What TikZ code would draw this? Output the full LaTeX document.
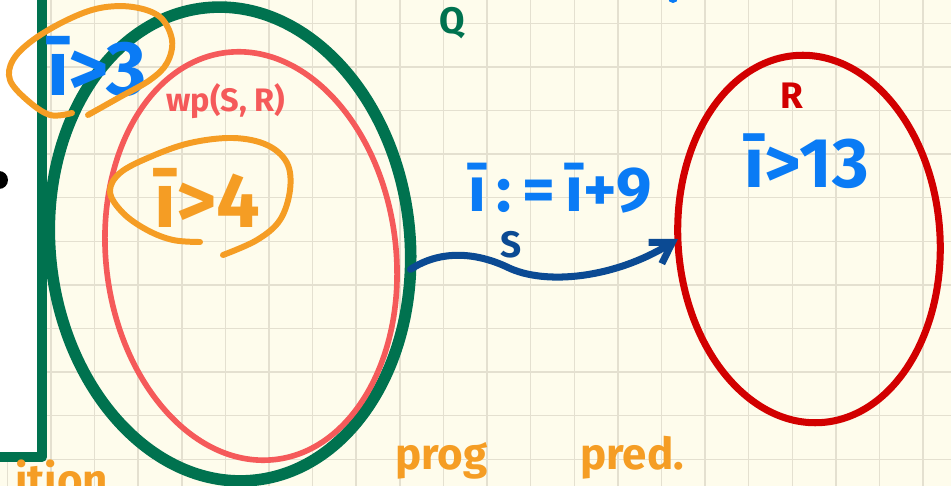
\documentclass[tikz,border=0pt]{standalone}
\usepackage{fontspec}
\setmainfont{Fira Sans}
\usetikzlibrary{shapes.geometric, arrows.meta}
\definecolor{paper}{HTML}{FEFCEC}
\definecolor{gridline}{HTML}{E4E0D0}
\definecolor{setgreen}{HTML}{00724F}
\definecolor{wpred}{HTML}{F55A5A}
\definecolor{postred}{HTML}{D20000}
\definecolor{inkblue}{HTML}{0A7BF5}
\definecolor{arrowblue}{HTML}{0B4A93}
\definecolor{marker}{HTML}{F59D24}

\begin{document}
\begin{tikzpicture}[x=0.02cm, y=-0.02cm,
    gridrule/.style={draw=gridline, line width=0.8pt},
    set/.style={draw, ellipse, inner sep=0pt, outer sep=0pt},
    tag/.style={inner sep=0pt, font=\bfseries\fontsize{21}{21}\selectfont},
    ink/.style={inner sep=0pt, text=inkblue, font=\bfseries\fontsize{44}{44}\selectfont},
    scrawl/.style={inner sep=0pt, text=marker, font=\bfseries\fontsize{25}{25}\selectfont},
    ring/.style={draw=marker, line width=3.4pt, line cap=round, line join=round}
]
\useasboundingbox (0,0) rectangle (951,486);
\clip (0,0) rectangle (951,486);
% paper and grid
\fill[paper] (0,0) rectangle (951,486);
\foreach \k in {0,...,21}
    \draw[gridrule] ({7.4+43.6*\k},0) -- ({7.4+43.6*\k},486);
\foreach \k in {0,...,10}
    \draw[gridrule] (0,{23.3+43.6*\k}) -- (951,{23.3+43.6*\k});
% left margin
\fill[white] (0,0) rectangle (42,457);
\fill[black] (-1,180) circle (9);
\fill[inkblue] (673,-2) circle (5);
\draw[setgreen, line width=5.6pt, line join=round, line cap=round] (42,-10) -- (42,457) -- (-10,457);

% sets
\node[set, draw=setgreen, line width=6.6pt, minimum width=7.2cm, minimum height=9.5cm, rotate=6] (Qset) at (230,244) {};
\node[set, draw=wpred, line width=3.2pt, minimum width=5.8cm, minimum height=8.2cm, rotate=7] (WPset) at (251,256) {};
\node[set, draw=postred, line width=4pt, minimum width=5.24cm, minimum height=7.36cm, rotate=4] (Rset) at (809,239) {};

% labels
\node[tag, text=setgreen] (qLabel) at (452,23) {Q};
\node[tag, text=wpred, font=\bfseries\fontsize{18.5}{18.5}\selectfont] (wpLabel) at (226,101) {wp(S, R)};
\node[tag, text=postred] (rLabel) at (792,96) {R};
\node[tag, text=arrowblue] (sLabel) at (511,245) {S};

% handwritten conditions
\node[ink] (pre3) at (97,67) {ī>3};
\node[ink, text=marker] (pre4) at (207,198) {ī>4};
\node[ink, font=\bfseries\fontsize{36}{36}\selectfont] (assign) at (560,188) {ī\,:\,=\,ī+9};
\node[ink, font=\bfseries\fontsize{40}{40}\selectfont] (post13) at (807,161) {ī>13};
\draw[ring] plot[smooth, tension=0.6] coordinates {(72,113) (50,115) (27,100) (10,80) (13,60) (33,40) (67,20) (100,8) (133,7) (160,17) (172,40) (167,63) (150,80) (120,97) (88,115)};
\draw[ring] plot[smooth, tension=0.6] coordinates {(200,242) (173,240) (147,230) (123,213) (110,192) (120,173) (150,157) (190,143) (233,138) (267,145) (287,163) (290,190) (280,220) (257,240) (223,255)};

% program arrow
\coordinate (sMid) at (507,267);
\draw[arrowblue, line width=4pt, line cap=round, -{Straight Barb[length=4mm, width=5mm]}]
    (Qset.-14) .. controls (440,250) and (475,252) .. (sMid)
    .. controls (545,286) and (615,278) .. (Rset.176);

% notes at the bottom
\node[scrawl, anchor=base west] (progNote) at (395,470) {prog};
\node[scrawl, anchor=base west] (predNote) at (580,470) {pred.};
\node[scrawl, anchor=base west] (leftNote) at (15,496) {ition};
\end{tikzpicture}
\end{document}
